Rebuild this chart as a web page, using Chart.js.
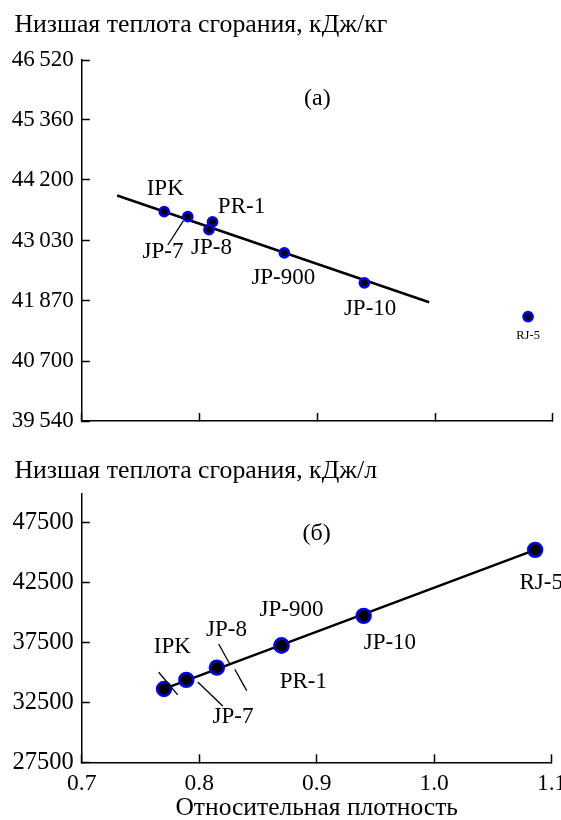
<!DOCTYPE html>
<html>
<head>
<meta charset="utf-8">
<script src="https://cdn.jsdelivr.net/npm/chart.js@4/dist/chart.umd.min.js"></script>
<style>
  html, body { margin: 0; padding: 0; background: #fff; }
  #wrap { position: relative; width: 561px; height: 820px; overflow: hidden; }
  #wrap canvas { position: absolute; left: 0; }
</style>
</head>
<body>
<div id="wrap">
  <canvas id="massChart" width="561" height="430" style="top:0px"></canvas>
  <canvas id="volChart" width="561" height="390" style="top:430px"></canvas>
</div>
<script>
// ---- (а) lower heating value per kilogram vs relative density ----
const fuelsMass   = ['IPK', 'JP-7', 'PR-1', 'JP-8', 'JP-900', 'JP-10', 'RJ-5'];
const densityMass = [0.770, 0.790, 0.811, 0.808, 0.872, 0.940, 1.079];
const heatMass    = [43590, 43490, 43390, 43240, 42790, 42210, 41560];
const fitMassX    = [0.730, 0.995];
const fitMassY    = [43900, 41835];
const massTicks   = [39540, 40700, 41870, 43030, 44200, 45360, 46520];

// ---- (б) lower heating value per litre vs relative density ----
const fuelsVol    = ['IPK', 'JP-7', 'JP-8', 'PR-1', 'JP-900', 'JP-10', 'RJ-5'];
const densityVol  = [0.770, 0.789, 0.815, 0.870, 0.870, 0.940, 1.086];
const heatVol     = [33610, 34360, 35380, 37220, 37220, 39690, 45190];
const fitVolX     = [0.770, 1.086];
const fitVolY     = [33610, 45190];
const volTicks    = [27500, 32500, 37500, 42500, 47500];

const densityTicks = [0.7, 0.8, 0.9, 1.0, 1.1];

const FONT = "'Liberation Serif', 'Times New Roman', serif";
const BLUE = '#0000ff';

// label placement around each marker (pixel offsets) and leader strokes
const massLabelStyle = {
  'IPK':    { dx: 1,     dy: -22.4 },
  'JP-7':   { dx: -24.8, dy: 35, leaders: [[-20, 28.3, -4.3, 4]] },
  'PR-1':   { dx: 29,    dy: -15.3 },
  'JP-8':   { dx: 2.5,   dy: 18.6 },
  'JP-900': { dx: -1,    dy: 24.7 },
  'JP-10':  { dx: 5.7,   dy: 26.3 },
  'RJ-5':   { dx: 0,     dy: 18.7, size: 12.5 }
};
const volLabelStyle = {
  'IPK':    { dx: 8.3,  dy: -42.3, leaders: [[-5.3, -16.7, 13.7, 6]] },
  'JP-7':   { dx: 46.7, dy: 36.7,  leaders: [[11.4, 2, 36.4, 26]] },
  'JP-8':   { dx: 9.6,  dy: -37.7, leaders: [[1.8, -23.7, 12.5, -4.4], [17.9, 1.6, 29.8, 23]] },
  'PR-1':   { dx: 21.9, dy: 36 },
  'JP-900': { dx: 10,   dy: -35.7 },
  'JP-10':  { dx: 26.2, dy: 27.3 },
  'RJ-5':   { dx: 6,    dy: 33.3 }
};

function toPoints(xs, ys) { return xs.map((x, i) => ({ x: x, y: ys[i] })); }

function groupThousands(v) {
  const s = String(Math.round(v));
  return s.length > 3 ? s.slice(0, -3) + '\u2009' + s.slice(-3) : s;
}

function densityScale(showLabels, height, titleText) {
  return {
    type: 'linear', min: 0.7, max: 1.1,
    afterBuildTicks: s => { s.ticks = densityTicks.map(v => ({ value: v })); },
    afterFit: s => { s.height = height; s.paddingLeft = 0; s.paddingRight = 0; },
    border: { display: true, color: '#000', width: 1.5 },
    grid: { display: true, drawOnChartArea: false, drawTicks: true, tickLength: -8, tickWidth: 1.5, tickColor: '#000' },
    ticks: {
      display: showLabels, color: '#000', autoSkip: false, maxRotation: 0, padding: 15.2,
      font: { family: FONT, size: 23.5 },
      callback: v => Number(v).toFixed(1)
    },
    title: {
      display: !!titleText, text: titleText || '', color: '#000',
      font: { family: FONT, size: 25.5, lineHeight: 1.2 },
      padding: { top: 0, bottom: -3.6 }
    }
  };
}

function heatScale(tickValues, min, max, fmt, fontSize) {
  return {
    type: 'linear', min: min, max: max,
    afterBuildTicks: s => { s.ticks = tickValues.map(v => ({ value: v })); },
    afterFit: s => { s.width = 81.8; s.paddingTop = 0; s.paddingBottom = 0; },
    border: { display: true, color: '#000', width: 1.5 },
    grid: { display: true, drawOnChartArea: false, drawTicks: true, tickLength: -8, tickWidth: 1.5, tickColor: '#000' },
    ticks: { color: '#000', autoSkip: false, padding: 16, font: { family: FONT, size: fontSize }, callback: fmt }
  };
}

function annotations(spec) {
  return {
    id: 'panelText',
    afterDatasetsDraw(chart) {
      const { ctx, chartArea } = chart;
      const xs = chart.scales.x, ys = chart.scales.y;
      ctx.save();
      ctx.fillStyle = '#000';
      ctx.strokeStyle = '#000';

      // axis heading above the plot
      ctx.font = `25.8px ${FONT}`;
      ctx.textAlign = 'left';
      ctx.textBaseline = 'alphabetic';
      ctx.fillText(spec.heading, 14.4, spec.headingBaseline);

      // panel letter
      ctx.font = `24px ${FONT}`;
      ctx.textAlign = 'center';
      ctx.textBaseline = 'middle';
      ctx.fillText(spec.letter, xs.getPixelForValue(0.9), chartArea.top + spec.letterDy);

      // fuel labels and leader strokes
      ctx.lineWidth = 1.3;
      spec.names.forEach((name, i) => {
        const st = spec.style[name];
        const px = xs.getPixelForValue(spec.xs[i]);
        const py = ys.getPixelForValue(spec.ys[i]);
        ctx.font = `${st.size || 23}px ${FONT}`;
        ctx.fillText(name, px + st.dx, py + st.dy);
        (st.leaders || []).forEach(l => {
          ctx.beginPath();
          ctx.moveTo(px + l[0], py + l[1]);
          ctx.lineTo(px + l[2], py + l[3]);
          ctx.stroke();
        });
      });
      ctx.restore();
    }
  };
}

function buildChart(id, cfg) {
  return new Chart(document.getElementById(id), {
    type: 'scatter',
    data: {
      datasets: [
        {
          type: 'scatter',
          data: toPoints(cfg.xs, cfg.ys),
          pointRadius: cfg.radius,
          pointBorderWidth: cfg.ring,
          pointBackgroundColor: '#000',
          pointBorderColor: BLUE,
          showLine: false
        },
        {
          type: 'line',
          data: toPoints(cfg.fitX, cfg.fitY),
          borderColor: '#000',
          borderWidth: 2.5,
          pointRadius: 0,
          fill: false,
          tension: 0
        }
      ]
    },
    options: {
      responsive: false,
      animation: false,
      events: [],
      layout: { padding: cfg.padding },
      plugins: { legend: { display: false }, tooltip: { enabled: false } },
      scales: { x: cfg.xScale, y: cfg.yScale }
    },
    plugins: [annotations(cfg.text)]
  });
}

buildChart('massChart', {
  xs: densityMass, ys: heatMass, fitX: fitMassX, fitY: fitMassY,
  radius: 4.6, ring: 2.5,
  padding: { top: 60, right: 8.2, bottom: 9, left: 0 },
  xScale: densityScale(false, 0, null),
  yScale: heatScale(massTicks, 39540, 46520, v => groupThousands(v), 23),
  text: {
    heading: 'Низшая теплота сгорания, кДж/кг', headingBaseline: 31.7,
    letter: '(а)', letterDy: 38.3,
    names: fuelsMass, xs: densityMass, ys: heatMass, style: massLabelStyle
  }
});

buildChart('volChart', {
  xs: densityVol, ys: heatVol, fitX: fitVolX, fitY: fitVolY,
  radius: 7, ring: 2.4,
  padding: { top: 63.3, right: 8.2, bottom: 0, left: 0 },
  xScale: densityScale(true, 57.7, 'Относительная плотность'),
  yScale: heatScale(volTicks, 27500, 49900, v => String(v), 24.5),
  text: {
    heading: 'Низшая теплота сгорания, кДж/л', headingBaseline: 47.7,
    letter: '(б)', letterDy: 40.7,
    names: fuelsVol, xs: densityVol, ys: heatVol, style: volLabelStyle
  }
});
</script>
</body>
</html>
